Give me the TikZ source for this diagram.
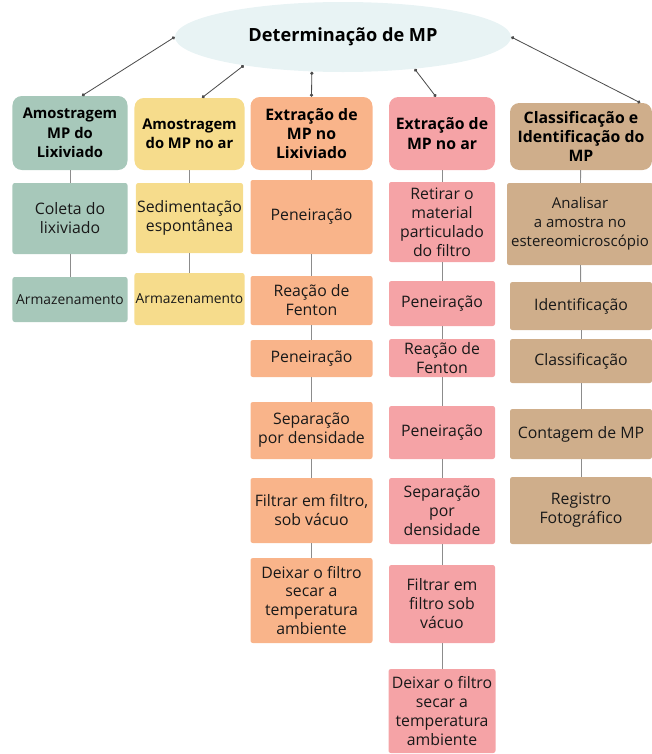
\documentclass[tikz,border=0pt]{standalone}
\usepackage{fontspec}
\setmainfont{Open Sans}
\usepackage{tikz}
\usetikzlibrary{shapes.geometric, arrows.meta}
\usepackage{xcolor}
\definecolor{rootfill}{HTML}{E8F3F4}
\definecolor{lixfill}{HTML}{A7C8BA}
\definecolor{arfill}{HTML}{F6DC8C}
\definecolor{extlfill}{HTML}{F9B48A}
\definecolor{extafill}{HTML}{F5A3A6}
\definecolor{clsfill}{HTML}{CFAE8B}
\tikzset{head/.style={fill=#1, rounded corners=8pt, align=center, inner sep=0pt,
           font=\bfseries\fontsize{13.5}{16.5}\selectfont},
         proc/.style={fill=#1, rounded corners=2pt, align=center, inner sep=0pt,
           text=black!90, font=\fontsize{13.5}{16.2}\selectfont},
         link/.style={draw=black!45, line width=0.8pt},
         dotlink/.style={draw=black!70, line width=0.7pt,
           {Circle[length=2.8pt]}-{Circle[length=2.8pt]}}}

\begin{document}
\begin{tikzpicture}[x=0.03cm, y=-0.03cm]

        \useasboundingbox (0,0) rectangle (652,754);

        % Nodes
        \node[ellipse, fill=rootfill, minimum width=10.08cm, minimum height=2.1cm, inner sep=0pt,
              font=\bfseries\fontsize{15.5}{18}\selectfont] (root) at (343,37) {Determinação de MP};

        \node[head=lixfill, minimum width=3.45cm, minimum height=2.22cm,
              font=\bfseries\fontsize{12.6}{16.5}\selectfont] (a0) at (70,133) {Amostragem\\MP do\\Lixiviado};
        \node[proc=lixfill, minimum width=3.45cm, minimum height=2.13cm] (a1) at (70,218.5) {Coleta do\\lixiviado};
        \node[proc=lixfill, minimum width=3.45cm, minimum height=1.35cm,
              font=\fontsize{11.8}{14}\selectfont] (a2) at (70,299.5) {Armazenamento};

        \node[head=arfill, minimum width=3.3cm, minimum height=2.16cm,
              font=\bfseries\fontsize{12.6}{16.5}\selectfont] (b0) at (189.5,134) {Amostragem\\do MP no ar};
        \node[proc=arfill, minimum width=3.21cm, minimum height=2.1cm] (b1) at (189.5,218) {Sedimentação\\espontânea};
        \node[proc=arfill, minimum width=3.3cm, minimum height=1.56cm,
              font=\fontsize{11.8}{14}\selectfont] (b2) at (189.5,299) {Armazenamento};

        \node[head=extlfill, minimum width=3.66cm, minimum height=2.19cm] (c0) at (311.5,133.5) {Extração de\\MP no\\Lixiviado};
        \node[proc=extlfill, minimum width=3.66cm, minimum height=2.22cm] (c1) at (311.5,217) {Peneiração};
        \node[proc=extlfill, minimum width=3.66cm, minimum height=1.47cm] (c2) at (311.5,300.5) {Reação de\\Fenton};
        \node[proc=extlfill, minimum width=3.66cm, minimum height=1.11cm] (c3) at (311.5,358.5) {Peneiração};
        \node[proc=extlfill, minimum width=3.66cm, minimum height=1.71cm] (c4) at (311.5,430.5) {Separação\\por densidade};
        \node[proc=extlfill, minimum width=3.66cm, minimum height=1.95cm] (c5) at (311.5,510.5) {Filtrar em filtro,\\sob vácuo};
        \node[proc=extlfill, minimum width=3.66cm, minimum height=2.55cm] (c6) at (311.5,600.5) {Deixar o filtro\\secar a\\temperatura\\ambiente};

        \node[head=extafill, minimum width=3.18cm, minimum height=2.19cm] (d0) at (442,133.5) {Extração de\\MP no ar};
        \node[proc=extafill, minimum width=3.18cm, minimum height=2.4cm] (d1) at (442,222) {Retirar o\\material\\particulado\\do filtro};
        \node[proc=extafill, minimum width=3.18cm, minimum height=1.35cm] (d2) at (442,303.5) {Peneiração};
        \node[proc=extafill, minimum width=3.18cm, minimum height=1.14cm] (d3) at (442,358) {Reação de\\Fenton};
        \node[proc=extafill, minimum width=3.18cm, minimum height=1.59cm] (d4) at (442,432.5) {Peneiração};
        \node[proc=extafill, minimum width=3.18cm, minimum height=1.98cm] (d5) at (442,511) {Separação\\por\\densidade};
        \node[proc=extafill, minimum width=3.18cm, minimum height=2.34cm] (d6) at (442,604) {Filtrar em\\filtro sob\\vácuo};
        \node[proc=extafill, minimum width=3.21cm, minimum height=2.52cm] (d7) at (442,711) {Deixar o filtro\\secar a\\temperatura\\ambiente};

        \node[head=clsfill, minimum width=4.26cm, minimum height=2.01cm] (e0) at (581,136.5) {Classificação e\\Identificação do\\MP};
        \node[proc=clsfill, minimum width=4.38cm, minimum height=2.46cm,
              font=\fontsize{12.8}{16.2}\selectfont] (e1) at (580,224) {Analisar\\a amostra no\\estereomicroscópio};
        \node[proc=clsfill, minimum width=4.26cm, minimum height=1.44cm] (e2) at (581,306) {Identificação};
        \node[proc=clsfill, minimum width=4.26cm, minimum height=1.32cm] (e3) at (581,361) {Classificação};
        \node[proc=clsfill, minimum width=4.26cm, minimum height=1.5cm] (e4) at (581,434) {Contagem de MP};
        \node[proc=clsfill, minimum width=4.26cm, minimum height=2.01cm] (e5) at (581,510.5) {Registro\\Fotográfico};

        % Edges
        \draw[dotlink] (root.west) -- ([xshift=0.36cm]a0.north);
        \draw[dotlink] (root.196) -- ([xshift=0.375cm]b0.north);
        \draw[dotlink] (root.228) -- (c0.north);
        \draw[dotlink] (root.336) -- ([xshift=-0.18cm]d0.north);
        \draw[dotlink] (root.east) -- ([xshift=-0.36cm]e0.north east);

        \draw[link] (a0) -- (a1);
        \draw[link] (a1) -- (a2);
        \draw[link] (b0) -- (b1);
        \draw[link] (b1) -- (b2);
        \draw[link] (c0) -- (c1);
        \draw[link] (c1) -- (c2);
        \draw[link] (c2) -- (c3);
        \draw[link] (c3) -- (c4);
        \draw[link] (c4) -- (c5);
        \draw[link] (c5) -- (c6);
        \draw[link] (d0) -- (d1);
        \draw[link] (d1) -- (d2);
        \draw[link] (d2) -- (d3);
        \draw[link] (d3) -- (d4);
        \draw[link] (d4) -- (d5);
        \draw[link] (d5) -- (d6);
        \draw[link] (d6) -- (d7);
        \draw[link] (e0) -- (e1);
        \draw[link] (e1) -- (e2);
        \draw[link] (e2) -- (e3);
        \draw[link] (e3) -- (e4);
        \draw[link] (e4) -- (e5);

        \end{tikzpicture}
\end{document}
